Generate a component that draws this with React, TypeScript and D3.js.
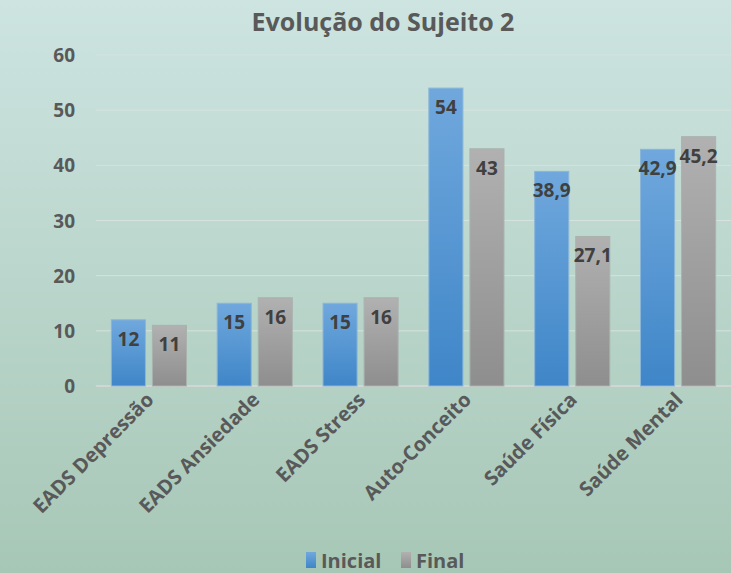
import { useEffect } from "react";
import * as d3 from "d3";

const categories = [
  "EADS Depressão",
  "EADS Ansiedade",
  "EADS Stress",
  "Auto-Conceito",
  "Saúde Física",
  "Saúde Mental",
];
const series = ["Inicial", "Final"];
const inicial = [12, 15, 15, 54, 38.9, 42.9];
const final = [11, 16, 16, 43, 27.1, 45.2];
const yTicks = [0, 10, 20, 30, 40, 50, 60];

const W = 731;
const H = 573;
const FONT = "'Open Sans', Lato, sans-serif";

function App() {
  useEffect(() => {
    document.body.style.margin = "0";
  }, []);

  const x = d3
    .scaleBand()
    .domain(categories)
    .range([96, 731])
    .paddingInner(0.29)
    .paddingOuter(0.145);
  const xSub = d3
    .scaleBand()
    .domain(series)
    .range([0, x.bandwidth()])
    .paddingInner(0.17);
  const y = d3.scaleLinear().domain([0, 60]).range([386, 55]);
  const fmt = (v) => String(v).replace(".", ",");

  const rows = categories.map((c, i) => ({
    cat: c,
    vals: [
      { s: "Inicial", v: inicial[i] },
      { s: "Final", v: final[i] },
    ],
  }));

  return (
    <svg width={W} height={H} style={{ display: "block" }}>
      <defs>
        <linearGradient id="bg" x1="0" y1="0" x2="0" y2="1">
          <stop offset="0" stopColor="#cde4e1" />
          <stop offset="1" stopColor="#a7c7b6" />
        </linearGradient>
        <linearGradient id="blue" x1="0" y1="0" x2="0" y2="1">
          <stop offset="0" stopColor="#70a8dd" />
          <stop offset="1" stopColor="#3f86c8" />
        </linearGradient>
        <linearGradient id="gray" x1="0" y1="0" x2="0" y2="1">
          <stop offset="0" stopColor="#b1b1b1" />
          <stop offset="1" stopColor="#8e8e8e" />
        </linearGradient>
      </defs>
      <rect width={W} height={H} fill="url(#bg)" />

      <text
        x={383}
        y={31}
        textAnchor="middle"
        fontFamily={FONT}
        fontWeight="bold"
        fontSize={25}
        fill="#595959"
      >
        Evolução do Sujeito 2
      </text>

      {yTicks.map((t) => (
        <g key={t}>
          <line
            x1={96}
            x2={731}
            y1={y(t)}
            y2={y(t)}
            stroke={t === 0 ? "#d8d8d8" : "#d6e2de"}
            strokeWidth={t === 0 ? 1.5 : 1}
          />
          <text
            x={75}
            y={y(t) + 7}
            textAnchor="end"
            fontFamily={FONT}
            fontWeight="bold"
            fontSize={19}
            fill="#595959"
          >
            {t}
          </text>
        </g>
      ))}

      {rows.map((r) => (
        <g key={r.cat} transform={`translate(${x(r.cat)},0)`}>
          {r.vals.map((d) => (
            <g key={d.s}>
              <rect
                x={xSub(d.s)}
                y={y(d.v)}
                width={xSub.bandwidth()}
                height={y(0) - y(d.v)}
                fill={d.s === "Inicial" ? "url(#blue)" : "url(#gray)"}
                stroke={d.s === "Inicial" ? "#8ab6d8" : "#a9b3ae"}
                strokeWidth={1}
              />
              <text
                x={xSub(d.s) + xSub.bandwidth() / 2}
                y={y(d.v) + 26}
                textAnchor="middle"
                fontFamily={FONT}
                fontWeight="bold"
                fontSize={19}
                fill="#404040"
              >
                {fmt(d.v)}
              </text>
            </g>
          ))}
        </g>
      ))}

      {categories.map((c) => {
        const cx = x(c) + x.bandwidth() / 2 + 6;
        return (
          <text
            key={c}
            transform={`translate(${cx},${401}) rotate(-45)`}
            textAnchor="end"
            fontFamily={FONT}
            fontWeight="bold"
            fontSize={20}
            fill="#595959"
          >
            {c}
          </text>
        );
      })}

      <g transform="translate(306,552)">
        <rect width={10} height={16} fill="url(#blue)" />
        <text
          x={15}
          y={16}
          fontFamily={FONT}
          fontWeight="bold"
          fontSize={20}
          fill="#595959"
        >
          Inicial
        </text>
        <rect x={95} width={10} height={16} fill="url(#gray)" />
        <text
          x={110}
          y={16}
          fontFamily={FONT}
          fontWeight="bold"
          fontSize={20}
          fill="#595959"
        >
          Final
        </text>
      </g>
    </svg>
  );
}

export default App;
